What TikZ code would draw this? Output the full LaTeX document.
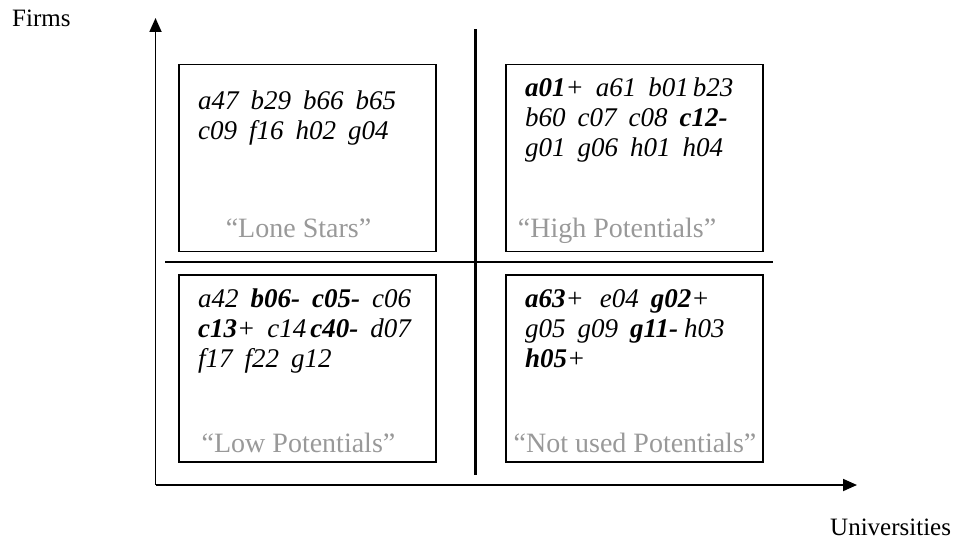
\documentclass[tikz,border=0pt]{standalone}
\usepackage{fontspec}
\setmainfont{Liberation Serif}
\usetikzlibrary{arrows.meta}

\newcommand{\wordfont}{\fontsize{27}{30}\selectfont\itshape\spaceskip 12pt\relax}

\tikzset{
  quad/.style={draw, line width=1.6pt, minimum width=257pt, minimum height=187pt, inner sep=0pt},
  words/.style={anchor=base west, inner sep=0pt, font=\wordfont},
  tag/.style={anchor=base, inner sep=0pt, text=black!40, font=\fontsize{28}{30}\selectfont},
  axlabel/.style={anchor=base west, inner sep=0pt, font=\fontsize{25}{28}\selectfont},
  axis/.style={line width=1.8pt, -{Triangle[length=14pt,width=12pt]}},
  cross/.style={line width=2.2pt}
}

\begin{document}
\begin{tikzpicture}[x=1pt, y=-1pt]
        \useasboundingbox (0,0) rectangle (957,548);
        % Axes
        \coordinate (origin) at (155.5,485);
        \coordinate (ytop) at (155.5,18);
        \coordinate (xend) at (857,485);
        \draw[axis] (origin) -- (ytop);
        \draw[axis] (origin) -- (xend);
        \node[axlabel] (firms) at (12,27) {Firms};
        \node[axlabel] (univ) at (830,535) {Universities};
        % Cross dividing the quadrants
        \coordinate (vtop) at (475.5,29.5);
        \coordinate (vbot) at (475.5,475);
        \coordinate (hleft) at (165,262);
        \coordinate (hright) at (772.5,262);
        \draw[cross] (vtop) -- (vbot);
        \draw[cross] (hleft) -- (hright);
        % Quadrant boxes
        \node[quad] (lone) at (307.75,158) {};
        \node[quad] (high) at (634.25,158) {};
        \node[quad] (low) at (307.75,368.5) {};
        \node[quad] (notused) at (634.25,368.5) {};
        % Lone Stars
        \node[words] (lone1) at (198,110) {a47 b29 b66 b65};
        \node[words] (lone2) at (198,140) {c09 f16 h02 g04};
        \node[tag] (lonetag) at (298.5,237) {“Lone Stars”};
        % High Potentials
        \node[words] (high1) at (525,97) {\textbf{a01}+ a61 b01\kern4pt b23};
        \node[words] (high2) at (525,127) {b60 c07 c08 \textbf{c12-}};
        \node[words] (high3) at (525,157) {g01 g06 h01 h04};
        \node[tag] (hightag) at (617,237) {“High Potentials”};
        % Low Potentials
        \node[words] (low1) at (198,307) {a42 \textbf{b06-} \textbf{c05-} c06};
        \node[words] (low2) at (198,337) {\textbf{c13}+ c14\kern4pt\textbf{c40-} d07};
        \node[words] (low3) at (198,367) {f17 f22 g12};
        \node[tag] (lowtag) at (298.5,452) {“Low Potentials”};
        % Not used Potentials
        \node[words] (nu1) at (525,307) {\textbf{a63}+\kern16pt e04 \textbf{g02}+};
        \node[words] (nu2) at (525,337) {g05 g09 \textbf{g11-}\kern6pt h03};
        \node[words] (nu3) at (525,367) {\textbf{h05}+};
        \node[tag] (nutag) at (635,452) {“Not used Potentials”};
    \end{tikzpicture}
\end{document}
